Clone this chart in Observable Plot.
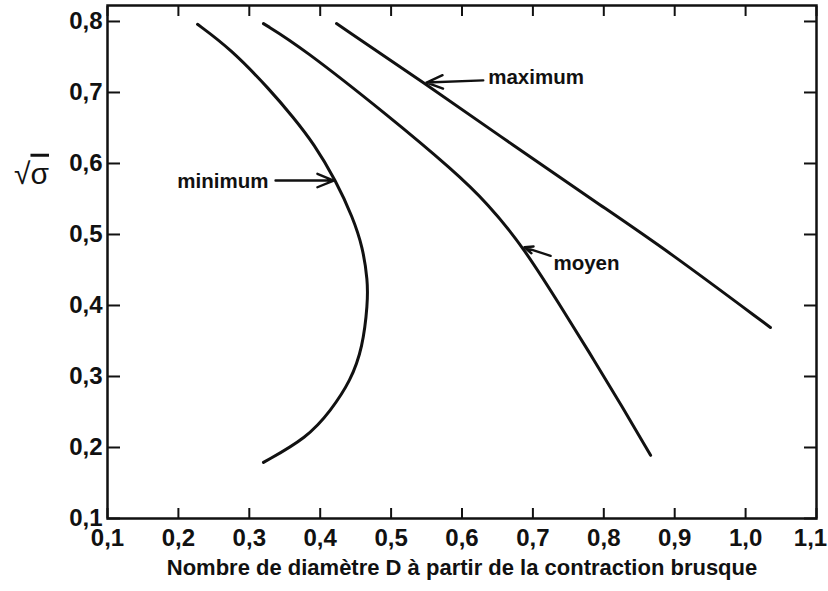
<!DOCTYPE html>
<html><head><meta charset="utf-8">
<script src="https://cdn.jsdelivr.net/npm/d3@7"></script>
<script src="https://cdn.jsdelivr.net/npm/@observablehq/plot@0.6"></script>
<style>body{margin:0;background:#fff} svg{display:block}</style>
</head><body><div id="chart"></div>
<script>
// ---- data ----
const xTicks = [0.1, 0.2, 0.3, 0.4, 0.5, 0.6, 0.7, 0.8, 0.9, 1.0, 1.1];
const yTicks = [0.1, 0.2, 0.3, 0.4, 0.5, 0.6, 0.7, 0.8];

const minX = [0.227, 0.273, 0.330, 0.362, 0.391, 0.422, 0.446, 0.460, 0.467, 0.467, 0.460, 0.443, 0.415, 0.382, 0.320];
const minY = [0.796, 0.762, 0.703, 0.665, 0.628, 0.576, 0.524, 0.482, 0.435, 0.403, 0.341, 0.294, 0.252, 0.214, 0.179];

const moyX = [0.320, 0.372, 0.499, 0.588, 0.636, 0.687, 0.749, 0.785, 0.825, 0.866];
const moyY = [0.797, 0.765, 0.665, 0.590, 0.544, 0.482, 0.383, 0.325, 0.259, 0.189];

const maxX = [0.423, 0.546, 0.673, 0.800, 0.890, 1.035];
const maxY = [0.797, 0.714, 0.625, 0.538, 0.477, 0.369];

const labels   = ["minimum", "moyen", "maximum"];
const labelX   = [0.327, 0.729, 0.637];
const labelY   = [0.576, 0.461, 0.722];
const labelEnd = [true, false, false];
const arrowX1  = [0.337, 0.725, 0.630];
const arrowY1  = [0.576, 0.470, 0.717];
const arrowX2  = [0.419, 0.688, 0.550];
const arrowY2  = [0.576, 0.482, 0.714];

const xLabel = "Nombre de diamètre D à partir de la contraction brusque";
const yRoot = "√";
const yVar = "σ";

// ---- build ----
const series = [
  ...minX.map((x, i) => ({x, y: minY[i], s: "minimum"})),
  ...moyX.map((x, i) => ({x, y: moyY[i], s: "moyen"})),
  ...maxX.map((x, i) => ({x, y: maxY[i], s: "maximum"}))
];
const notes = labels.map((t, i) => ({t, x: labelX[i], y: labelY[i], end: labelEnd[i],
  x1: arrowX1[i], y1: arrowY1[i], x2: arrowX2[i], y2: arrowY2[i]}));
const fmt = d => d3.format(".1f")(d).replace(".", ",");
const ink = "#111";
const font = "Liberation Sans, Arial, sans-serif";

const chart = Plot.plot({
  width: 828, height: 591,
  marginLeft: 107, marginRight: 12, marginTop: 5, marginBottom: 73,
  style: {fontFamily: font, fontSize: "22px", fontWeight: "bold", color: ink, background: "#fff"},
  x: {domain: [0.1, 1.1]},
  y: {domain: [0.1, 0.8225]},
  marks: [
    Plot.axisX({anchor: "bottom", ticks: xTicks, tickSize: -10, tickPadding: 20, tickFormat: fmt, label: null, strokeWidth: 2, fontSize: 24}),
    Plot.axisX({anchor: "top", ticks: xTicks, tickSize: -10, tickFormat: () => "", label: null, strokeWidth: 2}),
    Plot.axisY({anchor: "left", ticks: yTicks, tickSize: -13, tickPadding: 18, tickFormat: fmt, label: null, strokeWidth: 2, fontSize: 24}),
    Plot.axisY({anchor: "right", ticks: yTicks, tickSize: -13, tickFormat: () => "", label: null, strokeWidth: 2}),
    Plot.frame({stroke: ink, strokeWidth: 2.5}),
    Plot.line(series, {x: "x", y: "y", z: "s", stroke: ink, strokeWidth: 3, curve: "basis"}),
    Plot.arrow(notes, {x1: "x1", y1: "y1", x2: "x2", y2: "y2", stroke: ink, strokeWidth: 2.4, headLength: 11, headAngle: 45}),
    Plot.text(notes.filter(d => d.end), {x: "x", y: "y", text: "t", textAnchor: "end", fontSize: 20.5, fontWeight: "bold", fill: ink, dy: 1}),
    Plot.text(notes.filter(d => !d.end), {x: "x", y: "y", text: "t", textAnchor: "start", fontSize: 20.5, fontWeight: "bold", fill: ink, dy: 1}),
    Plot.text([xLabel], {text: d => d, frameAnchor: "bottom", dy: 56, fontSize: 22, fontWeight: "bold", fill: ink}),
    Plot.text([yRoot + yVar], {text: d => d, frameAnchor: "left", y: [0.585], dx: -76, textAnchor: "middle", fontSize: 30, fontWeight: "normal", fill: ink, className: "ylab"})
  ]
});
// overline (vinculum) on the variable under the root sign
const yl = chart.querySelector(".ylab text");
if (yl) {
  yl.textContent = "";
  const a = document.createElementNS("http://www.w3.org/2000/svg", "tspan");
  a.textContent = yRoot;
  const b = document.createElementNS("http://www.w3.org/2000/svg", "tspan");
  b.textContent = yVar;
  b.setAttribute("text-decoration", "overline");
  b.style.textDecoration = "overline";
  yl.append(a, b);
}
// tick labels: enforce size; keep the last x tick label inside the picture
chart.querySelectorAll("text").forEach(t => {
  if (/^\d,\d$/.test(t.textContent)) {
    t.setAttribute("font-size", "24");
    t.style.fontSize = "24px";
    if (t.textContent === "1,1") t.setAttribute("dx", "-6");
  }
});
document.getElementById("chart").append(chart);
</script>
</body></html>
